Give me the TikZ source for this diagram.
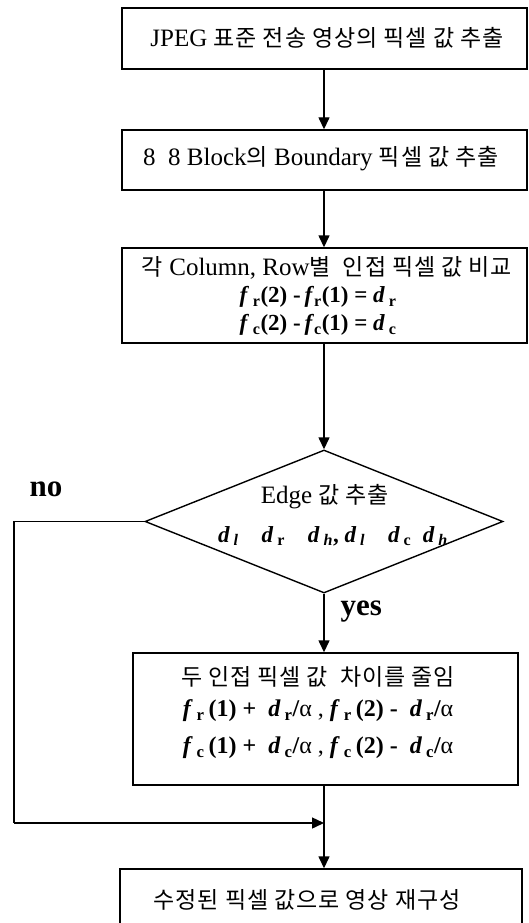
\documentclass[tikz,border=0pt]{standalone}
\usepackage{fontspec}
\setmainfont{Liberation Serif}
\newfontfamily\hgfont[LetterSpace=4]{Noto Sans CJK KR}
\usetikzlibrary{arrows.meta,shapes.geometric}
\newcommand{\hg}[1]{{\hgfont\fontsize{23}{27}\selectfont #1}}
\newcommand{\bi}[1]{\textbf{\textit{#1}}}
\newcommand{\sbr}[1]{\textsubscript{\textbf{#1}}}
\tikzset{
  blok/.style={rectangle,draw,line width=1.4pt,inner sep=0pt},
  rozhod/.style={diamond,draw,line width=1.4pt,inner sep=0pt,minimum width=358pt,minimum height=143pt},
  txt/.style={inner sep=0pt,font=\fontsize{25}{29}\selectfont},
  vzorec/.style={inner sep=0pt,font=\fontsize{23}{27}\selectfont\bfseries},
  hrana/.style={line width=1.4pt},
  sip/.style={line width=1.4pt,-{Triangle[length=12pt,width=11pt]}},
  popis/.style={inner sep=0pt,font=\fontsize{31}{34}\selectfont\bfseries},
}
\begin{document}
\begin{tikzpicture}[x=1pt,y=-1pt]
  \useasboundingbox (0,0) rectangle (529,923);
  % bloky
  \node[blok,minimum width=405pt,minimum height=61pt] (b1) at (324.5,38.5) {};
  \node[blok,minimum width=405pt,minimum height=60pt] (b2) at (324.5,160) {};
  \node[blok,minimum width=405pt,minimum height=95pt] (b3) at (324.5,295.5) {};
  \node[rozhod] (d1) at (324,521.5) {};
  \node[blok,minimum width=385pt,minimum height=132pt] (b4) at (325.5,719) {};
  \node[blok,minimum width=402pt,minimum height=64pt] (b5) at (321,901) {};
  % texty
  \node[txt] (t1) at (327,38) {JPEG \hg{표준 전송 영상의 픽셀 값 추출}};
  \node[txt] (t2) at (321,159) {8\ \ 8 Block\hg{의} Boundary \hg{픽셀 값 추출}};
  \node[txt] (t3) at (327,268) {\hg{각} Column, Row\hg{별\ \ 인접 픽셀 값 비교}};
  \node[vzorec] (t4) at (318,297)
    {\bi{f}\,\sbr{r}(2) -\,\bi{f}\sbr{r}(1) = \bi{d}\,\sbr{r}};
  \node[vzorec] (t5) at (318,325)
    {\bi{f}\,\sbr{c}(2) -\,\bi{f}\sbr{c}(1) = \bi{d}\,\sbr{c}};
  \node[txt] (t6) at (325,497) {Edge \hg{값 추출}};
  \node[vzorec] (t7) at (333,536)
    {\bi{d}\,\textsubscript{\bi{l}}\quad\bi{d}\,\sbr{r}\quad\bi{d}\,\textsubscript{\bi{h}}, \bi{d}\,\textsubscript{\bi{l}}\quad\bi{d}\,\sbr{c}\ \ \bi{d}\,\textsubscript{\bi{h}}};
  \node[txt] (t8) at (318,677) {\hg{두 인접 픽셀 값\ \ 차이를 줄임}};
  \node[vzorec,font=\fontsize{24}{28}\selectfont\bfseries] (t9) at (318,711)
    {\bi{f}\,\sbr{r}\,(1) +\ \ \bi{d}\,\sbr{r}/\mdseries α\ , \bfseries\bi{f}\,\sbr{r}\,(2) -\ \ \bi{d}\,\sbr{r}/\mdseries α};
  \node[vzorec,font=\fontsize{24}{28}\selectfont\bfseries] (t10) at (318,748)
    {\bi{f}\,\sbr{c}\,(1) +\ \ \bi{d}\,\sbr{c}/\mdseries α\ , \bfseries\bi{f}\,\sbr{c}\,(2) -\ \ \bi{d}\,\sbr{c}/\mdseries α};
  \node[txt] (t11) at (307,900) {\hg{수정된 픽셀 값으로 영상 재구성}};
  \node[popis] (no) at (46,489) {no};
  \coordinate (m1) at (324,823);
  \coordinate (l1) at (14,521.5);
  \coordinate (l2) at (14,823);
  % spojnice
  \draw[sip] (b1.south -| d1) -- (b2.north -| d1);
  \draw[sip] (b2.south -| d1) -- (b3.north -| d1);
  \draw[sip] (b3.south -| d1) -- (d1.north);
  \draw[sip] (d1.south) -- (b4.north -| d1) node[popis,pos=0.3,right=16pt] (yes) {yes};
  \draw[hrana] (b4.south -| d1) -- (m1);
  \draw[sip] (m1) -- (b5.north -| d1);
  \draw[hrana] (d1.west) -- (l1) -- (l2);
  \draw[sip] (l2) -- (m1);
\end{tikzpicture}
\end{document}
